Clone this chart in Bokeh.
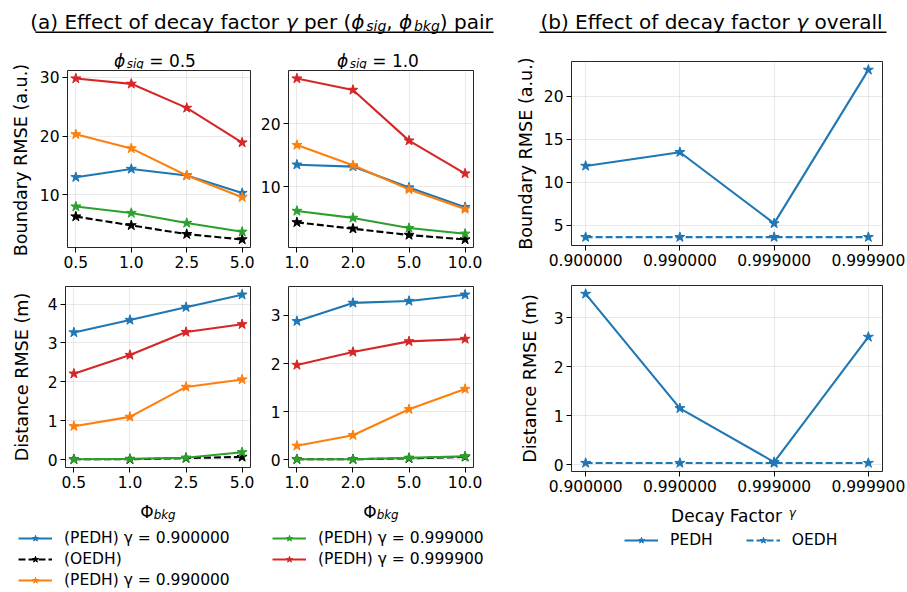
from bokeh.plotting import figure
from bokeh.models import FixedTicker, Label, Legend, LegendItem, Range1d
from bokeh.layouts import row, column
from bokeh.embed import file_html
from bokeh.resources import INLINE

FONT = "DejaVu Sans"

# ---------------- data ----------------
phi_bkg_sig05 = ["0.5", "1.0", "2.5", "5.0"]
phi_bkg_sig10 = ["1.0", "2.0", "5.0", "10.0"]
gamma_labels = ["0.900000", "0.990000", "0.999000", "0.999900"]

# Boundary RMSE, phi_sig = 0.5
bnd_s05_g0900 = [13.0, 14.4, 13.3, 10.3]
bnd_s05_oedh = [6.3, 4.8, 3.3, 2.4]
bnd_s05_g0990 = [20.3, 17.9, 13.3, 9.6]
bnd_s05_g0999 = [8.0, 6.9, 5.2, 3.7]
bnd_s05_g09999 = [29.8, 28.9, 24.8, 18.9]
# Boundary RMSE, phi_sig = 1.0
bnd_s10_g0900 = [13.5, 13.2, 9.9, 6.8]
bnd_s10_oedh = [4.4, 3.4, 2.4, 1.7]
bnd_s10_g0990 = [16.6, 13.4, 9.6, 6.5]
bnd_s10_g0999 = [6.2, 5.1, 3.5, 2.6]
bnd_s10_g09999 = [27.1, 25.3, 17.3, 12.1]
# Distance RMSE, phi_sig = 0.5
dst_s05_g0900 = [3.27, 3.59, 3.92, 4.24]
dst_s05_oedh = [0.01, 0.01, 0.04, 0.07]
dst_s05_g0990 = [0.86, 1.10, 1.87, 2.06]
dst_s05_g0999 = [0.01, 0.02, 0.05, 0.19]
dst_s05_g09999 = [2.21, 2.69, 3.28, 3.48]
# Distance RMSE, phi_sig = 1.0
dst_s10_g0900 = [2.88, 3.26, 3.30, 3.43]
dst_s10_oedh = [0.01, 0.01, 0.03, 0.06]
dst_s10_g0990 = [0.29, 0.51, 1.05, 1.47]
dst_s10_g0999 = [0.01, 0.01, 0.04, 0.07]
dst_s10_g09999 = [1.97, 2.24, 2.46, 2.51]
# Overall
bnd_all_pedh = [11.9, 13.5, 5.2, 23.1]
bnd_all_oedh = [3.6, 3.6, 3.6, 3.6]
dst_all_pedh = [3.49, 1.15, 0.05, 2.61]
dst_all_oedh = [0.03, 0.03, 0.03, 0.03]

series_names = ["(PEDH) γ = 0.900000", "(OEDH)", "(PEDH) γ = 0.990000",
                "(PEDH) γ = 0.999000", "(PEDH) γ = 0.999900"]
overall_names = ["PEDH", "OEDH"]

yticks_bnd_s05 = [10, 20, 30]
yticks_bnd_s10 = [10, 20]
yticks_dst_s05 = [0, 1, 2, 3, 4]
yticks_dst_s10 = [0, 1, 2, 3]
yticks_bnd_all = [5, 10, 15, 20]
yticks_dst_all = [0, 1, 2, 3]

# ---------------- styles ----------------
BLUE, ORANGE, GREEN, RED, BLACK = "#1f77b4", "#ff7f0e", "#2ca02c", "#d62728", "black"
SERIES_STYLE = [(BLUE, "solid"), (BLACK, "7 3"), (ORANGE, "solid"), (GREEN, "solid"), (RED, "solid")]
OVERALL_STYLE = [(BLUE, "solid"), (BLUE, "7 3")]
TICK_FS = "15.5px"
LEG_FS = "15.5px"
YLABEL_FS = "17.6px"
LW = 2.1
MS = 10.5

# approximate DejaVu Sans advance widths (units of 1/2048 em)
ADV = {' ': 651, '(': 799, ')': 799, ',': 651, '.': 651, '=': 1716,
       'a': 1255, 'b': 1300, 'c': 1126, 'd': 1300, 'e': 1260, 'f': 721, 'g': 1300,
       'i': 569, 'k': 1186, 'l': 569, 'o': 1253, 'p': 1300, 'r': 842, 's': 1067,
       't': 803, 'v': 1212, 'y': 1212, 'D': 1577, 'E': 1294, 'F': 1178,
       'γ': 1212, 'ϕ': 1530, 'Φ': 1612}
for _d in "0123456789":
    ADV[_d] = 1303


def tw(s, size):
    return sum(ADV.get(ch, 1250) for ch in s) / 2048.0 * size


def rich(p, cx, base, pieces, size):
    """Text made of pieces (text, italic, kind) centred at cx with baseline base (pixel data units).
    kind: 0 normal, 1 subscript, 2 small raised."""
    def fs(kind):
        return size * (0.7 if kind else 1.0)
    total = sum(tw(t, fs(k)) for t, it, k in pieces)
    x = cx - total / 2.0
    for t, it, k in pieces:
        f = fs(k)
        lead = len(t) - len(t.lstrip(" "))
        dy = -0.2 * size if k == 1 else (0.12 * size if k == 2 else 0)
        p.add_layout(Label(x=x + tw(" " * lead, f), y=base + dy,
                           text=t.strip(" "), text_font=FONT, text_font_size=f"{f:.1f}px",
                           text_font_style="italic" if it else "normal",
                           text_align="left", text_baseline="alphabetic", text_color="black"))
        x += tw(t, f)


def vlabel(p, x, y, text):
    p.add_layout(Label(x=x, y=y, text=text, angle=90, angle_units="deg", text_font=FONT,
                       text_font_size=YLABEL_FS, text_align="center", text_baseline="middle",
                       text_color="black"))


def strip(w, h):
    """A bare figure whose data units are pixels (titles, axis titles, legends)."""
    p = figure(width=w, height=h, min_border=0, output_backend="svg", toolbar_location=None,
               tools="", x_range=Range1d(0, w), y_range=Range1d(0, h),
               x_axis_location=None, y_axis_location=None)
    p.outline_line_color = None
    p.grid.visible = False
    p.extra_x_ranges = {"hidden": Range1d(1000, 1001)}
    p.extra_y_ranges = {"hidden": Range1d(1000, 1001)}
    return p


def panel(w, h, lb, rb, tb, bb, xlabels, series, styles, yticks):
    p = figure(width=w, height=h, min_border_left=lb, min_border_right=rb,
               min_border_top=tb, min_border_bottom=bb, output_backend="svg",
               toolbar_location=None, tools="")
    xs = list(range(len(xlabels)))
    for vals, (color, dash) in zip(series, styles):
        p.line(xs, vals, line_color=color, line_width=LW, line_dash=dash)
        p.scatter(xs, vals, marker="star", size=MS, fill_color=color, line_color=color)
    p.xaxis.ticker = FixedTicker(ticks=xs)
    p.xaxis.major_label_overrides = {i: lab for i, lab in enumerate(xlabels)}
    p.yaxis.ticker = FixedTicker(ticks=yticks)
    p.outline_line_color = "black"
    p.outline_line_width = 1
    p.outline_line_alpha = 0.85
    for ax in p.axis:
        ax.axis_line_color = None
        ax.major_tick_line_color = "black"
        ax.major_tick_out = 5
        ax.major_tick_in = 0
        ax.minor_tick_line_color = None
        ax.major_label_text_font = FONT
        ax.major_label_text_font_size = TICK_FS
        ax.major_label_text_color = "black"
        ax.major_label_standoff = 3
    p.grid.grid_line_color = "#b0b0b0"
    p.grid.grid_line_alpha = 0.35
    p.grid.grid_line_width = 0.8
    return p


def legend_items(p, names, styles, series, n):
    items = []
    xs = list(range(n))
    for name, (color, dash), vals in zip(names, styles, series):
        r1 = p.line(xs, vals, line_color=color, line_width=LW, line_dash=dash,
                    x_range_name="hidden", y_range_name="hidden")
        r2 = p.scatter(xs, vals, marker="star", size=MS, fill_color=color, line_color=color,
                       x_range_name="hidden", y_range_name="hidden")
        items.append(LegendItem(label=name, renderers=[r1, r2]))
    return items


def mk_legend(its, loc, orientation="vertical", spacing=3):
    return Legend(items=its, location=loc, orientation=orientation, padding=0, margin=0,
                  spacing=spacing, glyph_width=34, glyph_height=16, label_height=16,
                  label_standoff=12, label_text_font=FONT, label_text_font_size=LEG_FS,
                  label_text_color="black", border_line_color=None,
                  background_fill_alpha=0)


# ================= left block (page x 0..500) =================
hdr_a = strip(500, 40)
rich(hdr_a, 261, 19, [("(a) Effect of decay factor ", False, 0), ("γ", True, 0), (" per (", False, 0),
                      ("ϕ", True, 0), ("sig", True, 1), (", ", False, 0), ("ϕ", True, 0),
                      ("bkg", True, 1), (") pair", False, 0)], 20)
hdr_a.segment(x0=[35], y0=[8.3], x1=[493], y1=[8.3], line_color="black", line_width=1.6)

ylab_l = strip(36, 455)
vlabel(ylab_l, 20, 335.5, "Boundary RMSE (a.u.)")
vlabel(ylab_l, 21, 118.5, "Distance RMSE (m)")

sub_l = strip(464, 29)
rich(sub_l, 118.5, 8.5, [("ϕ", True, 0), ("sig", True, 1), (" = 0.5", False, 0)], 17)
rich(sub_l, 341.5, 8.5, [("ϕ", True, 0), ("sig", True, 1), (" = 1.0", False, 0)], 17)

tl = panel(220, 201, 29, 6, 1, 21, phi_bkg_sig05,
           [bnd_s05_g0900, bnd_s05_oedh, bnd_s05_g0990, bnd_s05_g0999, bnd_s05_g09999],
           SERIES_STYLE, yticks_bnd_s05)
tm = panel(244, 201, 32, 27, 1, 21, phi_bkg_sig10,
           [bnd_s10_g0900, bnd_s10_oedh, bnd_s10_g0990, bnd_s10_g0999, bnd_s10_g09999],
           SERIES_STYLE, yticks_bnd_s10)
bl = panel(220, 225, 29, 6, 16, 28, phi_bkg_sig05,
           [dst_s05_g0900, dst_s05_oedh, dst_s05_g0990, dst_s05_g0999, dst_s05_g09999],
           SERIES_STYLE, yticks_dst_s05)
bm = panel(244, 225, 32, 27, 16, 28, phi_bkg_sig10,
           [dst_s10_g0900, dst_s10_oedh, dst_s10_g0990, dst_s10_g0999, dst_s10_g09999],
           SERIES_STYLE, yticks_dst_s10)

foot_l = strip(500, 97)
rich(foot_l, 157.5, 81, [("Φ", False, 0), ("bkg", True, 1)], 17)
rich(foot_l, 380.5, 81, [("Φ", False, 0), ("bkg", True, 1)], 17)
items = legend_items(foot_l, series_names, SERIES_STYLE,
                     [bnd_s05_g0900, bnd_s05_oedh, bnd_s05_g0990, bnd_s05_g0999, bnd_s05_g09999],
                     len(phi_bkg_sig05))
foot_l.add_layout(mk_legend(items[:3], (18, 3)))
foot_l.add_layout(mk_legend(items[3:], (272, 24)))

left_block = column(row(hdr_a),
                    row(ylab_l, column(row(sub_l), row(tl, tm), row(bl, bm))),
                    row(foot_l))

# ================= right block (page x 500..907) =================
hdr_b = strip(407, 40)
rich(hdr_b, 211, 18.5, [("(b) Effect of decay factor ", False, 0), ("γ", True, 0),
                        (" overall", False, 0)], 20)
hdr_b.segment(x0=[39], y0=[8.3], x1=[386], y1=[8.3], line_color="black", line_width=1.6)

ylab_r = strip(40, 459)
vlabel(ylab_r, 25, 346, "Boundary RMSE (a.u.)")
vlabel(ylab_r, 29.5, 121, "Distance RMSE (m)")

tr = panel(367, 228, 29, 25, 21, 23, gamma_labels, [bnd_all_pedh, bnd_all_oedh],
           OVERALL_STYLE, yticks_bnd_all)
br = panel(367, 231, 29, 25, 17, 28, gamma_labels, [dst_all_pedh, dst_all_oedh],
           OVERALL_STYLE, yticks_dst_all)

foot_r = strip(407, 93)
rich(foot_r, 233, 77, [("Decay Factor ", False, 0), ("γ", True, 2)], 17)
ritems = legend_items(foot_r, overall_names, OVERALL_STYLE, [dst_all_pedh, dst_all_oedh],
                      len(gamma_labels))
foot_r.add_layout(mk_legend(ritems, (124, 43), orientation="horizontal", spacing=33))

right_block = column(row(hdr_b),
                     row(ylab_r, column(tr, br)),
                     row(foot_r))

layout = row(left_block, right_block)

open("out.html", "w").write(file_html(layout, INLINE))
